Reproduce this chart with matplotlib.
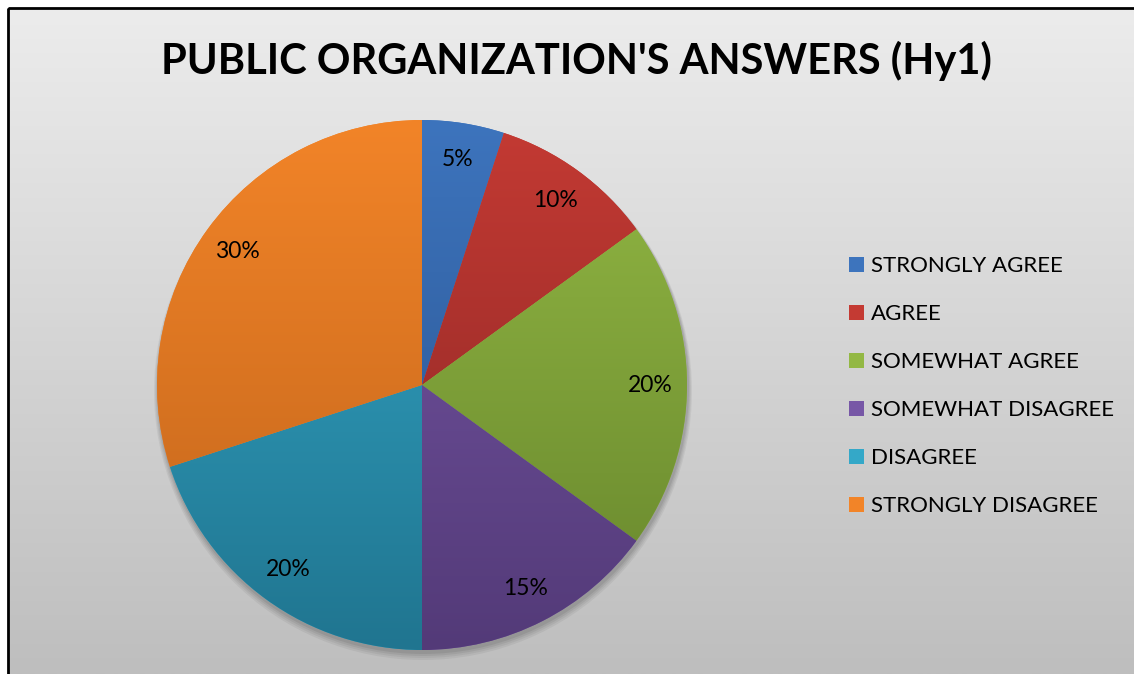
import matplotlib
matplotlib.use("Agg")
import matplotlib.pyplot as plt
import numpy as np
from matplotlib.colors import LinearSegmentedColormap
from matplotlib.patches import Circle, Rectangle

plt.rcParams['font.family'] = ['Lato', 'DejaVu Sans']

# data
categories = ["STRONGLY AGREE", "AGREE", "SOMEWHAT AGREE",
              "SOMEWHAT DISAGREE", "DISAGREE", "STRONGLY DISAGREE"]
shares = [5, 10, 20, 15, 20, 30]
# (top, bottom) gradient colours of each slice
top_colors = ["#3d74bd", "#c43a33", "#93b844", "#7757a6", "#34a8c8", "#f28428"]
bottom_colors = ["#28518c", "#862524", "#66852c", "#533a78", "#207590", "#c0641b"]

fig = plt.figure(figsize=(11.34, 6.74), dpi=100)

##background with vertical grey gradient and black frame
bg = fig.add_axes([0, 0, 1, 1])
bg.set_xlim(0, 1134)
bg.set_ylim(674, 0)
bg.axis('off')
grad = np.linspace(0, 1, 256).reshape(-1, 1)
bg_cmap = LinearSegmentedColormap.from_list("bg", ["#ececec", "#bebebe"])
bg.imshow(grad, cmap=bg_cmap, extent=[9, 1134, 674, 9], aspect='auto')
bg.add_patch(Rectangle((8, 8), 1140, 700, fill=False, edgecolor='black', lw=2))
bg.text(576, 61, "PUBLIC ORGANIZATION'S ANSWERS (Hy1)", fontsize=30,
        fontweight='bold', ha='center', va='center', color='black')

##soft shadow under the pie
cx, cy, r = 422, 385, 265
for k, a in enumerate([0.05, 0.05, 0.06, 0.07]):
    bg.add_patch(Circle((cx + 1, cy + 6 - k), r + 4 - k, color='black',
                        alpha=a, lw=0))

##pie chart
ax = fig.add_axes([(cx - r) / 1134, (674 - cy - r) / 674, 2 * r / 1134, 2 * r / 674])
wedges, texts, autotexts = ax.pie(shares, startangle=90, counterclock=False,
                                  colors=top_colors, autopct='%1.0f%%',
                                  pctdistance=0.86,
                                  textprops={'fontsize': 16.5, 'color': 'black'})
ax.set_xlim(-1, 1)
ax.set_ylim(-1, 1)
ax.set_aspect('auto')

for w, c0, c1 in zip(wedges, top_colors, bottom_colors):
    cmap = LinearSegmentedColormap.from_list("g", [c0, c1])
    im = ax.imshow(grad, cmap=cmap, extent=[-1, 1, -1, 1], aspect='auto', zorder=1.5)
    im.set_clip_path(w)
for t in autotexts:
    t.set_zorder(3)

##legend
leg = fig.legend(wedges, categories, loc='upper left', bbox_to_anchor=(838 / 1134, 1 - 245 / 674),
                 frameon=False, fontsize=16, handlelength=0.65, handleheight=0.65,
                 handletextpad=0.35, labelspacing=1.26, borderpad=0)
for h, c in zip(leg.legend_handles, top_colors):
    h.set_facecolor(c)

fig.savefig("out.png", dpi=100)
